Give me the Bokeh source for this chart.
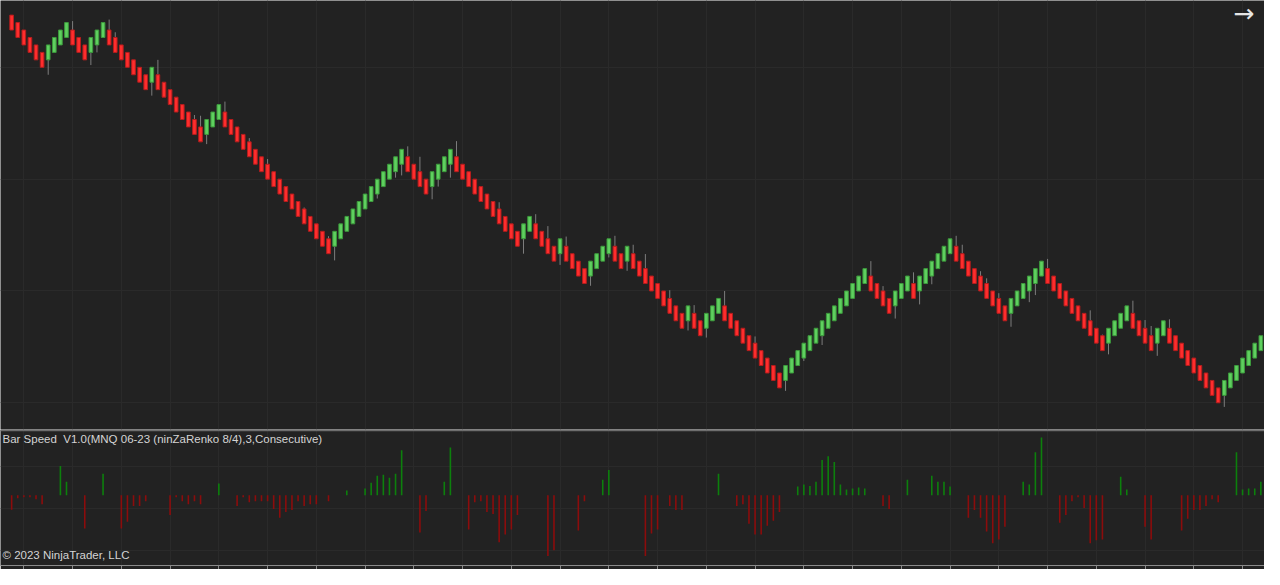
from bokeh.plotting import figure
from bokeh.layouts import column
from bokeh.models import Range1d, Grid, FixedTicker, Label, Span, ColumnDataSource, LinearAxis
from bokeh.embed import file_html
from bokeh.resources import INLINE

# ---------------- data ----------------
# ninZaRenko 8/4 bricks: run-length of brick directions (u = up/green, d = down/red)
brick_runs = [("d", 6), ("u", 4), ("d", 3), ("u", 3), ("d", 7), ("u", 1), ("d", 8), ("u", 3),
              ("d", 18), ("u", 12), ("d", 4), ("u", 4), ("d", 11), ("u", 2), ("d", 4), ("u", 1),
              ("d", 4), ("u", 4), ("d", 2), ("u", 1), ("d", 9), ("u", 1), ("d", 2), ("u", 3),
              ("d", 10), ("u", 14), ("d", 4), ("u", 3), ("d", 1), ("u", 6), ("d", 9), ("u", 6),
              ("d", 10), ("u", 4), ("d", 4), ("u", 2), ("d", 9), ("u", 7)]
first_body_mid = 13131.0   # mid price of the first brick body
brick_step = 1.0           # 4 ticks of 0.25
body_half = 1.0            # body = 8 ticks

# wicks: bar number -> points beyond the body
upper_wick_bars = [11, 17, 18, 25, 31, 32, 36, 40, 43, 49, 53, 66, 68, 74, 81, 87, 89, 92, 100, 103,
                   105, 109, 113, 118, 123, 142, 144, 149, 156, 157, 160, 161, 163, 171, 178, 180,
                   185, 187, 188, 191]
upper_wick_len = [1.2, 1.4, 0.7, 2.0, 0.6, 1.5, 1.4, 0.5, 0.7, 0.2, 0.35, 1.4, 2.0, 2.1, 0.9, 1.3, 1.7,
                  1.3, 1.4, 1.2, 1.95, 1.1, 1.1, 2.0, 0.9, 2.0, 0.65, 1.5, 1.4, 1.2, 0.65, 0.7, 0.7,
                  1.3, 1.4, 0.15, 1.7, 1.1, 1.3, 1.2]
lower_wick_bars = [7, 14, 15, 24, 33, 54, 61, 64, 65, 70, 71, 73, 85, 91, 96, 99, 102, 112, 115, 128,
                   131, 134, 146, 150, 152, 165, 168, 169, 181, 189, 200]
lower_wick_len = [2.0, 1.7, 1.0, 1.8, 1.3, 1.9, 0.6, 0.8, 1.5, 1.7, 1.0, 1.8, 2.0, 1.5, 1.3, 0.5, 1.3,
                  1.3, 1.25, 1.4, 0.4, 1.25, 1.7, 1.8, 1.1, 1.8, 1.5, 1.55, 1.5, 1.7, 1.55]

# Bar Speed indicator (signed)
speed_bars = [1, 2, 3, 4, 5, 6, 9, 10, 13, 16, 19, 20, 21, 22, 23, 27, 28, 29, 30, 31, 32, 35, 38, 39,
              40, 41, 42, 43, 44, 45, 46, 47, 48, 49, 50, 51, 53, 56, 59, 60, 61, 62, 63, 64, 65, 68,
              69, 72, 73, 76, 77, 78, 79, 80, 81, 82, 83, 84, 89, 90, 94, 95, 98, 99, 105, 106, 107,
              109, 110, 111, 117, 120, 121, 122, 123, 124, 125, 126, 127, 130, 131, 132, 133, 134,
              135, 136, 137, 138, 139, 140, 141, 144, 145, 148, 152, 153, 154, 155, 158, 159, 160,
              161, 162, 163, 164, 167, 168, 169, 170, 173, 174, 175, 176, 177, 178, 179, 180, 183,
              184, 187, 188, 193, 194, 195, 196, 197, 198, 199, 202, 203, 204, 205, 206]
speed_vals = [-14.7, -3, -2, -2, -4, -9, 30, 14, -34, 22, -34, -27, -11, -11, -6, -20, -2, -6, -9, -6,
              -9, 12, -11, -2, -7, -6, -6, -6, -14, -23, -17, -15, -6, -11, -9, -9, -6, 5, 7, 13, 20,
              21, 18, 22, 46, -38, -16, 14, 49, -35, -7, -6, -17, -19, -48, -40, -35, -20, -62, -56,
              -36, -6, 16, 26, -62, -39, -35, -11, -15, -15, 22, -11, -9, -29, -40, -40, -31, -26,
              -17, 9, 11, 9.5, 14, 36, 40, 34, 11, 6, 7, 8, 7, -11, -14, 16, 20, 14, 14, 9, -23, -15,
              -23, -37, -49, -45, -32, 14, 11, 44, 59, -28, -20, -6, -2, -13, -49, -46, -45, 19, 6,
              -32, -45, -36, -24, -15, -15, -11, -4, -7, 44, 6, 7, 7, 14]

price_grid = [13080, 13095, 13110, 13125]
speed_grid = [29.3, -13.7, -56.7]
indicator_title = "Bar Speed \u00a0V1.0(MNQ 06-23 (ninZaRenko 8/4),3,Consecutive)"
copyright_text = "\u00a9 2023 NinjaTrader, LLC"

# ---------------- build bricks ----------------
dirs = []
for d, n in brick_runs:
    dirs += [d] * n
bars, mids = [], []
mid = first_body_mid
for i, d in enumerate(dirs):
    if i > 0:
        mid = mid + (brick_step if d == "u" else -brick_step)
    bars.append(i + 1)
    mids.append(mid)

BG = "#222222"
GRID = "#2a2a2a"
UP_FILL, UP_LINE = "#5fd05f", "#3c9a3c"
DN_FILL, DN_LINE = "#ff2d2d", "#b51d1d"
WICK = "#7d7d7d"

vticks = list(range(3, 207, 8))

p1 = figure(width=1264, height=429, x_range=Range1d(-0.83, 206.6),
            y_range=Range1d(13076.42, 13133.96), output_backend="svg", toolbar_location=None,
            x_axis_type=None, y_axis_type=None, min_border=0,
            background_fill_color=BG, border_fill_color=BG, outline_line_color=None)
p1.add_layout(Grid(dimension=0, ticker=FixedTicker(ticks=vticks), grid_line_color=GRID))
p1.add_layout(Grid(dimension=1, ticker=FixedTicker(ticks=price_grid), grid_line_color=GRID))

mid_of = dict(zip(bars, mids))
uw = ColumnDataSource(dict(x=upper_wick_bars,
                           y0=[mid_of[b] + body_half for b in upper_wick_bars],
                           y1=[mid_of[b] + body_half + e for b, e in zip(upper_wick_bars, upper_wick_len)]))
lw = ColumnDataSource(dict(x=lower_wick_bars,
                           y0=[mid_of[b] - body_half for b in lower_wick_bars],
                           y1=[mid_of[b] - body_half - e for b, e in zip(lower_wick_bars, lower_wick_len)]))
p1.segment(x0="x", y0="y0", x1="x", y1="y1", source=uw, line_color=WICK, line_width=1)
p1.segment(x0="x", y0="y0", x1="x", y1="y1", source=lw, line_color=WICK, line_width=1)

bodies = ColumnDataSource(dict(
    x=bars,
    top=[m + body_half for m in mids],
    bottom=[m - body_half for m in mids],
    fill=[UP_FILL if d == "u" else DN_FILL for d in dirs],
    line=[UP_LINE if d == "u" else DN_LINE for d in dirs]))
p1.vbar(x="x", width=0.6, top="top", bottom="bottom", fill_color="fill", line_color="line",
        line_width=1, source=bodies)

p1.add_layout(Label(x=203.2, y=13132.2, text="\u2192", text_align="center", text_baseline="middle",
                    text_font="DejaVu Sans", text_font_size="25px", text_color="#e6e6e6"))

# ---------------- indicator panel ----------------
p2 = figure(width=1264, height=140, x_range=p1.x_range, y_range=Range1d(-71.7, 67.3),
            output_backend="svg", toolbar_location=None, x_axis_type=None, y_axis_type=None,
            min_border=0, background_fill_color=BG, border_fill_color=BG, outline_line_color=None)
p2.add_layout(Grid(dimension=0, ticker=FixedTicker(ticks=vticks), grid_line_color=GRID))
p2.add_layout(Grid(dimension=1, ticker=FixedTicker(ticks=speed_grid), grid_line_color=GRID))

sp = ColumnDataSource(dict(x=speed_bars, top=speed_vals,
                           color=["#0c800c" if v > 0 else "#8c0c0c" for v in speed_vals]))
p2.vbar(x="x", width=0.26, top="top", bottom=0, fill_color="color", line_color=None, source=sp)

p2.add_layout(Span(location=66.6, dimension="width", line_color="#6e6e6e", line_width=2))

ax = LinearAxis(ticker=FixedTicker(ticks=vticks), axis_line_color="#8a8a8a", axis_line_width=1,
                major_tick_line_color="#8a8a8a", major_tick_out=4, major_tick_in=0,
                minor_tick_line_color=None, major_label_text_font_size="1px",
                major_label_text_color=None, major_label_standoff=0)
p2.add_layout(ax, "below")

p2.add_layout(Label(x=2, y=57.3, x_units="screen", text=indicator_title, text_baseline="middle",
                    text_font="Liberation Sans", text_font_size="11.5px", text_color="#d4d4d4"))
p2.add_layout(Label(x=2, y=-60.7, x_units="screen", text=copyright_text, text_baseline="middle",
                    text_font="Liberation Sans", text_font_size="11.5px", text_color="#d4d4d4"))

layout = column(p1, p2, spacing=0)
open("out.html", "w").write(file_html(layout, INLINE))
